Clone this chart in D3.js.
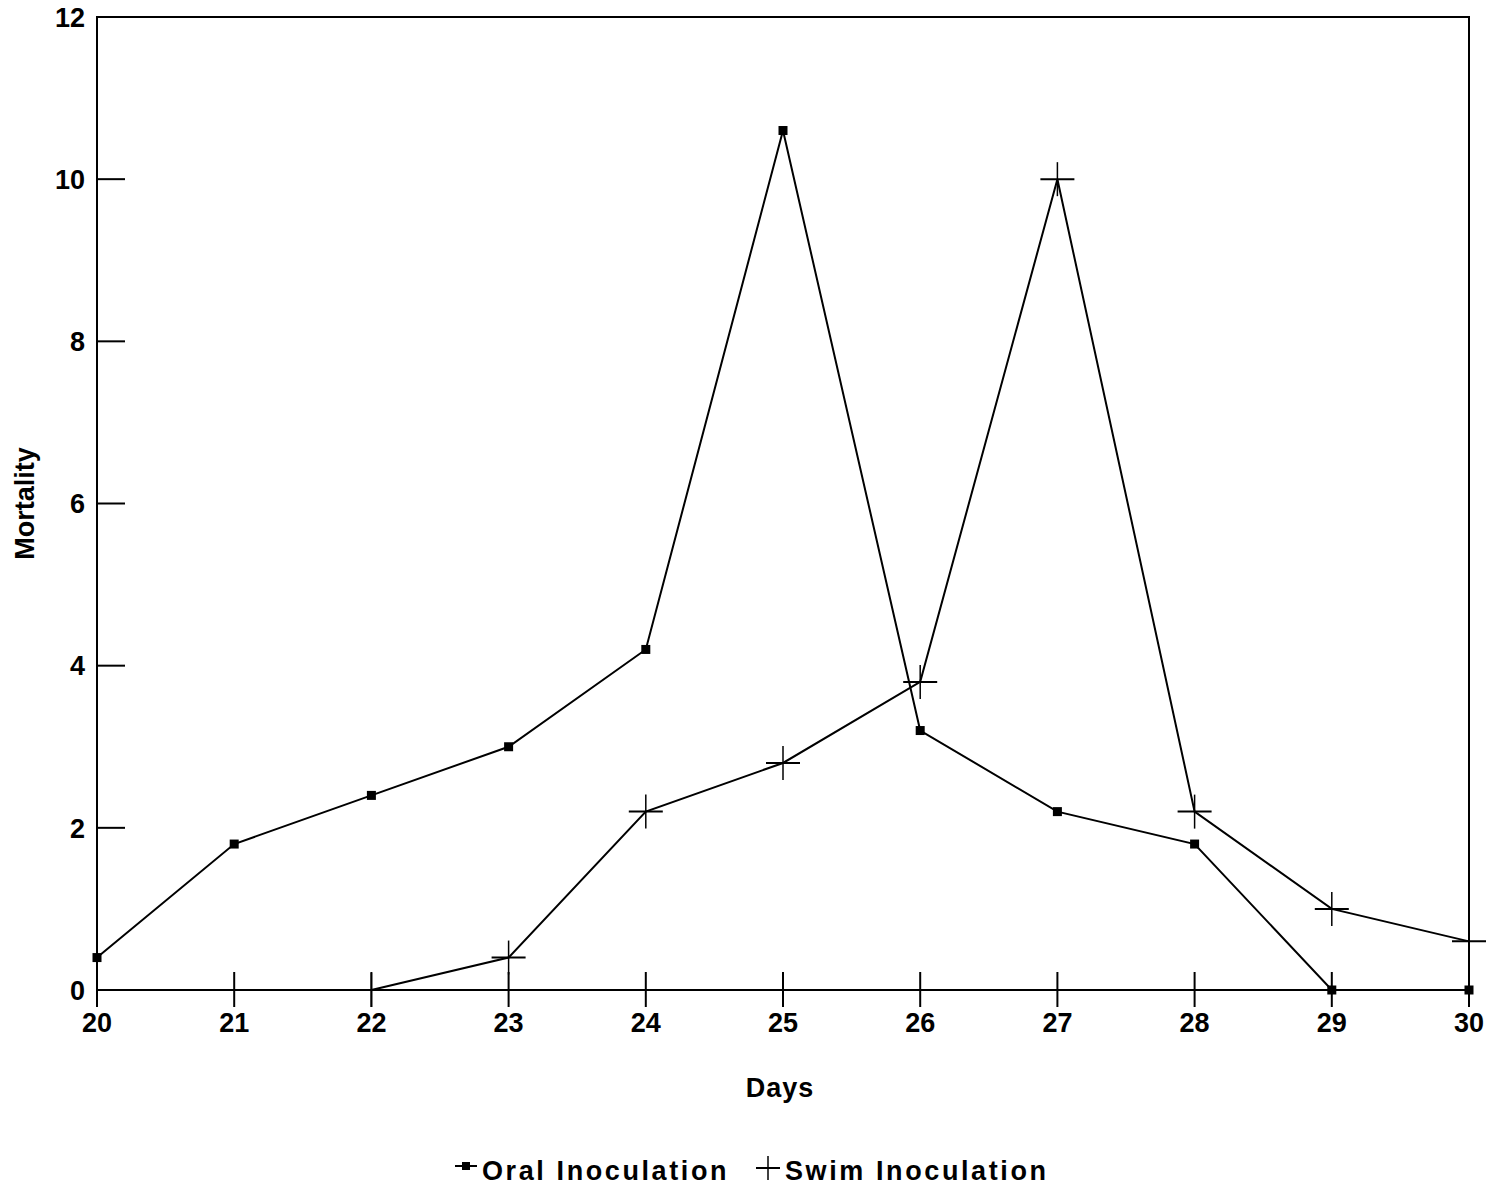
<!DOCTYPE html>
<html>
<head>
<meta charset="utf-8">
<script src="https://cdn.jsdelivr.net/npm/d3@7"></script>
<style>
  body { margin: 0; background: #fff; }
  text { font-family: "Liberation Sans", Arial, sans-serif; font-weight: bold; fill: #000; }
</style>
</head>
<body>
<div id="chart"></div>
<script>
const days = [20, 21, 22, 23, 24, 25, 26, 27, 28, 29, 30];
const oral = [0.4, 1.8, 2.4, 3.0, 4.2, 10.6, 3.2, 2.2, 1.8, 0, 0];
const swimDays = [22, 23, 24, 25, 26, 27, 28, 29, 30];
const swim = [0, 0.4, 2.2, 2.8, 3.8, 10.0, 2.2, 1.0, 0.6];
const yTicks = [0, 2, 4, 6, 8, 10, 12];

const width = 1499, height = 1189;
const margin = { left: 97, right: 1469, top: 17, bottom: 990 };
const fs = 27;

const svg = d3.select("#chart").append("svg")
  .attr("width", width)
  .attr("height", height);

const x = d3.scaleLinear().domain([20, 30]).range([margin.left, margin.right]);
const y = d3.scaleLinear().domain([0, 12]).range([margin.bottom, margin.top]);

// frame
svg.append("rect")
  .attr("x", margin.left).attr("y", margin.top)
  .attr("width", margin.right - margin.left).attr("height", margin.bottom - margin.top)
  .attr("fill", "none").attr("stroke", "#000").attr("stroke-width", 2);

// y ticks (inward) + labels
const yAxis = svg.append("g");
yAxis.selectAll("line").data(yTicks.filter(d => d > 0 && d < 12)).join("line")
  .attr("x1", margin.left).attr("x2", margin.left + 28)
  .attr("y1", d => y(d)).attr("y2", d => y(d))
  .attr("stroke", "#000").attr("stroke-width", 2);
yAxis.selectAll("text").data(yTicks).join("text")
  .attr("x", margin.left - 12).attr("y", d => y(d))
  .attr("dy", "0.36em")
  .attr("text-anchor", "end")
  .attr("font-size", fs)
  .text(d => d);

// x ticks crossing the axis + labels
const xAxis = svg.append("g");
xAxis.selectAll("line").data(days).join("line")
  .attr("x1", d => x(d)).attr("x2", d => x(d))
  .attr("y1", d => (d === 20 ? margin.bottom : margin.bottom - 18)).attr("y2", margin.bottom + 17)
  .attr("stroke", "#000").attr("stroke-width", 2);
xAxis.selectAll("text").data(days).join("text")
  .attr("x", d => x(d)).attr("y", margin.bottom + 42)
  .attr("text-anchor", "middle")
  .attr("font-size", fs)
  .text(d => d);

// axis titles
svg.append("text")
  .attr("x", 780).attr("y", 1097)
  .attr("text-anchor", "middle")
  .attr("font-size", fs)
  .attr("letter-spacing", 1)
  .text("Days");
svg.append("text")
  .attr("transform", `translate(34,${y(6)}) rotate(-90)`)
  .attr("text-anchor", "middle")
  .attr("font-size", fs)
  .text("Mortality");

const line = d3.line().x(d => x(d[0])).y(d => y(d[1]));
const oralPts = days.map((d, i) => [d, oral[i]]);
const swimPts = swimDays.map((d, i) => [d, swim[i]]);

svg.append("path").datum(oralPts)
  .attr("d", line).attr("fill", "none").attr("stroke", "#000").attr("stroke-width", 2);
svg.append("path").datum(swimPts)
  .attr("d", line).attr("fill", "none").attr("stroke", "#000").attr("stroke-width", 2);

const sq = 9, pl = 17;
svg.append("g").selectAll("rect").data(oralPts).join("rect")
  .attr("x", d => x(d[0]) - sq / 2).attr("y", d => y(d[1]) - sq / 2)
  .attr("width", sq).attr("height", sq).attr("fill", "#000");

const plus = (g, cx, cy, s) => {
  g.append("line").attr("x1", cx - s).attr("x2", cx + s).attr("y1", cy).attr("y2", cy)
    .attr("stroke", "#000").attr("stroke-width", 2);
  g.append("line").attr("x1", cx).attr("x2", cx).attr("y1", cy - s).attr("y2", cy + s)
    .attr("stroke", "#000").attr("stroke-width", 1.5);
};
const swimG = svg.append("g");
swimPts.forEach(d => plus(swimG, x(d[0]), y(d[1]), pl));

// legend
const lg = svg.append("g");
const ly = 1180;
lg.append("line").attr("x1", 455).attr("x2", 477).attr("y1", ly - 14).attr("y2", ly - 14)
  .attr("stroke", "#000").attr("stroke-width", 2);
lg.append("rect").attr("x", 462).attr("y", ly - 18).attr("width", 8).attr("height", 8).attr("fill", "#000");
lg.append("text").attr("x", 482).attr("y", ly).attr("font-size", fs)
  .attr("letter-spacing", 2.6).text("Oral Inoculation");
plus(lg, 768, ly - 12, 12);
lg.append("text").attr("x", 785).attr("y", ly).attr("font-size", fs)
  .attr("letter-spacing", 2.6).text("Swim Inoculation");
</script>
</body>
</html>
